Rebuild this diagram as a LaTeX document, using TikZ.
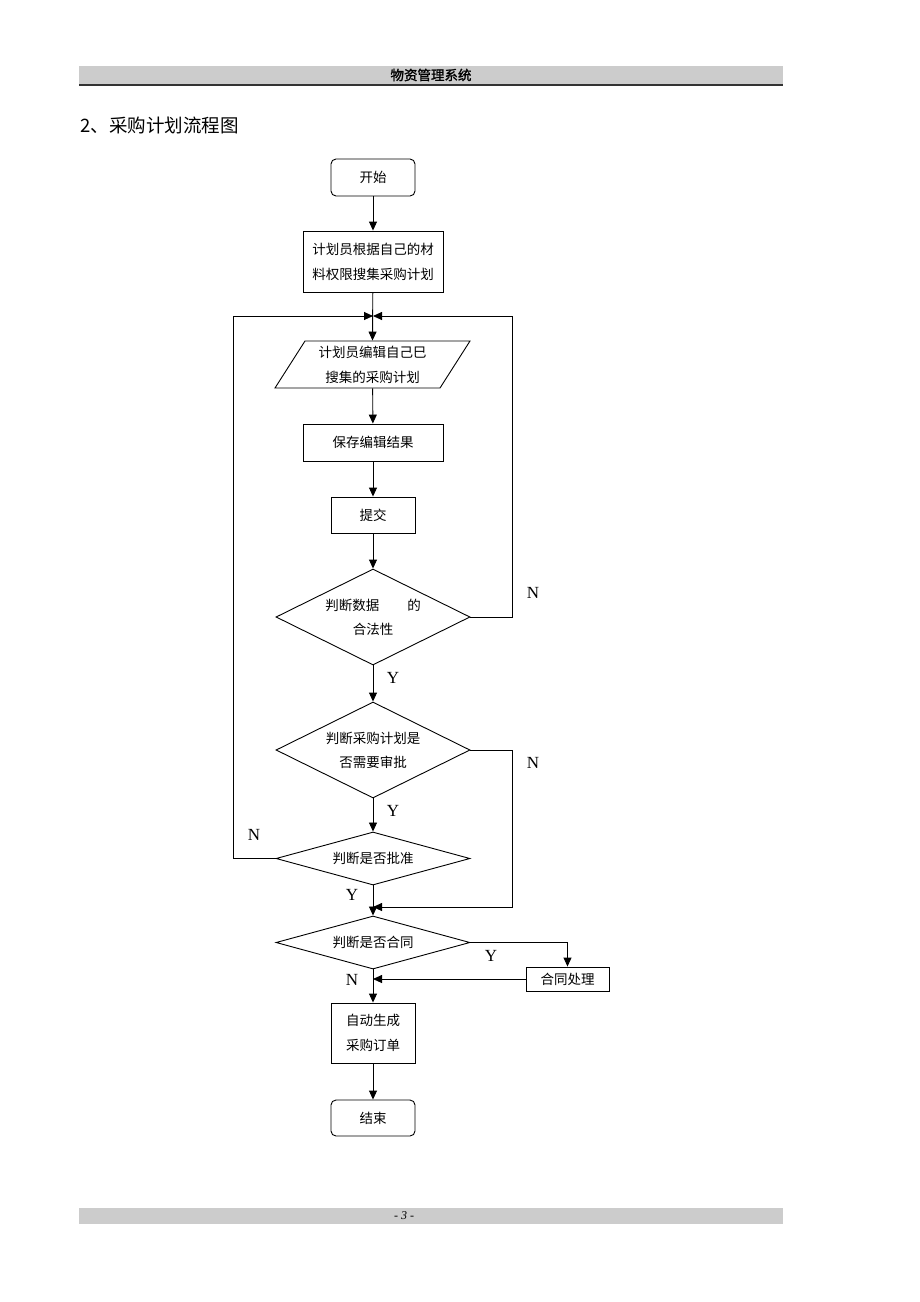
\documentclass[tikz,border=0pt]{standalone}
\usepackage{fontspec}
\setmainfont{Liberation Serif}
\newfontfamily\cjk{Noto Sans CJK SC}
\newfontfamily\cjkb[FakeBold=1.5]{Noto Sans CJK SC}
\usetikzlibrary{arrows.meta,shapes.geometric}
\definecolor{bargray}{HTML}{CCCCCC}
\definecolor{barline}{HTML}{333333}
\begin{document}
\begin{tikzpicture}[x=1pt,y=-1pt,line width=0.9pt,
  flow/.style={-{Triangle[length=9pt,width=8pt]}},
  box/.style={draw, rectangle, inner sep=0pt, font=\cjk\fontsize{13.5}{25}\selectfont, align=center},
  term/.style={box, rounded corners=5pt},
  dec/.style={draw, diamond, inner sep=0pt, aspect=2, font=\cjk\fontsize{13.5}{24}\selectfont, align=center},
  lbl/.style={font=\fontsize{17}{17}\selectfont, inner sep=0pt}]
\useasboundingbox (0,0) rectangle (920,1302);
% header
\fill[bargray] (79,66) rectangle (783,84);
\draw[barline, line width=1.6pt] (79,85) -- (783,85);
\node[font=\cjkb\fontsize{13.5}{13.5}\selectfont, inner sep=0pt] (hdr) at (431,75) {物资管理系统};
\node[anchor=west, font=\cjk\fontsize{18.5}{18.5}\selectfont, inner sep=0pt] (title) at (80,125) {2、采购计划流程图};
% footer
\fill[bargray] (79,1208) rectangle (783,1224);
\node[font=\itshape\fontsize{12}{12}\selectfont, inner sep=0pt] (ftr) at (404,1216) {- 3 -};
% nodes
\node[term, minimum width=84pt, minimum height=37pt] (start) at (373,177.5) {开始};
\node[box, minimum width=140pt, minimum height=61pt] (b1) at (373,261.5) {计划员根据自己的材\\料权限搜集采购计划};
\coordinate (m1) at (373,316);
\draw (305,341) -- (470,341) -- (440,388) -- (275,388) -- cycle;
\node[inner sep=0pt, minimum width=195pt, minimum height=47pt, font=\cjk\fontsize{13.5}{25}\selectfont, align=center] (edit) at (372.5,364.5) {计划员编辑自己巳\\搜集的采购计划};
\node[box, minimum width=140pt, minimum height=37pt] (save) at (373,442.5) {保存编辑结果};
\node[box, minimum width=84pt, minimum height=36pt] (sub) at (373,515) {提交};
\node[dec, minimum width=194pt, minimum height=96pt] (d1) at (373,617) {判断数据\hspace{28pt}的\\合法性};
\node[dec, minimum width=194pt, minimum height=96pt] (d2) at (373,750) {判断采购计划是\\否需要审批};
\node[dec, minimum width=194pt, minimum height=47pt] (d3) at (373,858.5) {判断是否批准};
\coordinate (m2) at (373,907);
\node[dec, minimum width=194pt, minimum height=47pt] (d4) at (373,942.5) {判断是否合同};
\node[box, minimum width=83pt, minimum height=24pt] (ht) at (567.5,979) {合同处理};
\coordinate (m3) at (373,979);
\node[box, minimum width=84pt, minimum height=60pt] (auto) at (373,1033) {自动生成\\采购订单};
\node[term, minimum width=84pt, minimum height=36pt] (end) at (373,1118) {结束};
% connectors
\draw[flow] (start) -- (b1);
\draw[flow] (b1) -- (edit.north);
\draw[flow] (d3.west) -- ++(-42,0) |- (m1);
\draw[flow] (d1.east) -- ++(42,0) |- (m1);
\draw[flow] (edit) -- (save);
\draw[flow] (save) -- (sub);
\draw[flow] (sub) -- (d1);
\draw[flow] (d1) -- (d2);
\draw[flow] (d2) -- (d3);
\draw[flow] (d3) -- (d4);
\draw[flow] (d2.east) -- ++(42,0) |- (m2);
\draw[flow] (d4.east) -| (ht.north);
\draw[flow] (ht.west) -- (m3);
\draw[flow] (d4) -- (auto);
\draw[flow] (auto) -- (end);
% labels
\node[lbl] (n1) at (533,593) {N};
\node[lbl] (y1) at (393,678) {Y};
\node[lbl] (n2) at (533,763) {N};
\node[lbl] (y2) at (393,811) {Y};
\node[lbl] (n3) at (254,835) {N};
\node[lbl] (y3) at (352,895) {Y};
\node[lbl] (y4) at (491,956) {Y};
\node[lbl] (n4) at (352,980) {N};
\end{tikzpicture}
\end{document}
